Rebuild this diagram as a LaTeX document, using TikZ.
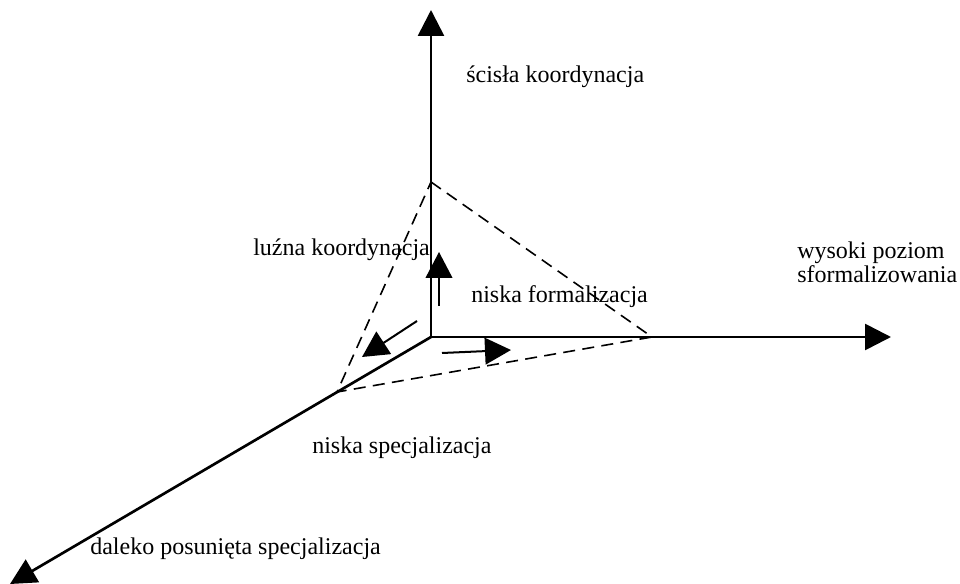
\documentclass[tikz,border=0pt]{standalone}
\usepackage{fontspec}
\setmainfont{Liberation Serif}
\usetikzlibrary{arrows.meta}
\tikzset{
  axis-line/.style={line width=2pt,-{Triangle[length=19.5pt,width=19.5pt]}},
  dir-arrow/.style={line width=1.5pt,-{Triangle[length=19.5pt,width=20pt]}},
  dash-line/.style={line width=1.2pt,dash pattern=on 9pt off 5.5pt},
  axis-label/.style={anchor=west,inner sep=0pt,align=left,
    font=\fontsize{18}{18}\selectfont},
}
\begin{document}
\begin{tikzpicture}[x=0.75pt,y=-0.75pt]
  \useasboundingbox (0,0) rectangle (960,584);
  % axes
  \coordinate (o) at (431,337);
  \coordinate (y-end) at (431,10);
  \coordinate (x-end) at (891,337);
  \coordinate (z-end) at (10,584);
  \draw[axis-line] (o) -- (y-end);
  \draw[axis-line] (o) -- (x-end);
  \draw[axis-line] (o) -- (z-end);
  % dashed plane
  \coordinate (py) at (431,182);
  \coordinate (px) at (652,337);
  \coordinate (pz) at (337,392);
  \draw[dash-line] (py) -- (px) -- (pz) -- cycle;
  % small direction arrows
  \coordinate (up-a) at (439,306);
  \coordinate (up-b) at (439,252);
  \coordinate (rt-a) at (442,353);
  \coordinate (rt-b) at (511,350);
  \coordinate (dl-a) at (417,321);
  \coordinate (dl-b) at (362,357);
  \draw[dir-arrow] (up-a) -- (up-b);
  \draw[dir-arrow] (rt-a) -- (rt-b);
  \draw[dir-arrow] (dl-a) -- (dl-b);
  % labels
  \node[axis-label] (l-scis) at (466,77) {ścisła koordynacja};
  \node[axis-label] (l-luz) at (253,250) {luźna koordynacja};
  \node[axis-label] (l-wys) at (797,262) {wysoki poziom\\sformalizowania};
  \node[axis-label] (l-nf) at (471,297) {niska formalizacja};
  \node[axis-label] (l-ns) at (312,448) {niska specjalizacja};
  \node[axis-label] (l-dal) at (90,549) {daleko posunięta specjalizacja};
\end{tikzpicture}
\end{document}
